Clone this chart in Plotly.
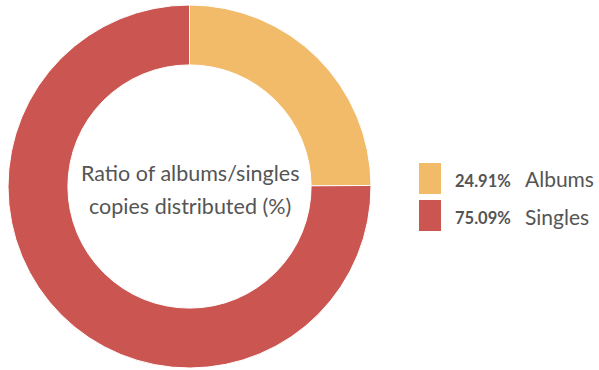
import plotly.graph_objects as go

# Copies distributed, share by format (%)
categories = ["Albums", "Singles"]
shares = [24.91, 75.09]
colors = ["#F2BB6A", "#CB5550"]
center_lines = ["Ratio of albums/singles", "copies distributed (%)"]

W, H = 599, 370
FONT = "Lato"
TEXT = "#555555"

fig = go.Figure(go.Pie(
    labels=categories,
    values=shares,
    hole=0.67,
    sort=False,
    direction="clockwise",
    rotation=0,
    marker=dict(colors=colors, line=dict(color="white", width=1)),
    textinfo="none",
    hoverinfo="label+percent",
    showlegend=False,
    domain=dict(x=[8 / W, 371 / W], y=[1 - 368 / H, 1 - 5 / H]),
))

# Text inside the hole
cx = 189.5 / W
for i, line in enumerate(center_lines):
    fig.add_annotation(
        x=cx, y=1 - (173 + 33 * i) / H, xref="paper", yref="paper",
        text=line, showarrow=False, xanchor="center", yanchor="middle",
        font=dict(family=FONT, size=21.5, color=TEXT),
    )

# Hand-drawn legend: swatch, bold percentage, label
row_tops = [163, 200]
for cat, val, col, top in zip(categories, shares, colors, row_tops):
    fig.add_shape(
        type="rect", xref="paper", yref="paper",
        x0=419 / W, x1=441 / W, y0=1 - (top + 31) / H, y1=1 - top / H,
        fillcolor=col, line=dict(width=0),
    )
    ymid = 1 - (top + 18) / H
    fig.add_annotation(
        x=453 / W, y=ymid, xref="paper", yref="paper",
        text=f"<b>{val:.2f}%</b>", showarrow=False, xanchor="left", yanchor="middle",
        font=dict(family=FONT, size=16.5, color=TEXT),
    )
    fig.add_annotation(
        x=523 / W, y=ymid + 2 / H, xref="paper", yref="paper",
        text=cat, showarrow=False, xanchor="left", yanchor="middle",
        font=dict(family=FONT, size=21, color=TEXT),
    )

fig.update_layout(
    width=W, height=H,
    margin=dict(l=0, r=0, t=0, b=0),
    paper_bgcolor="white", plot_bgcolor="white",
)

fig.write_html("out.html")
